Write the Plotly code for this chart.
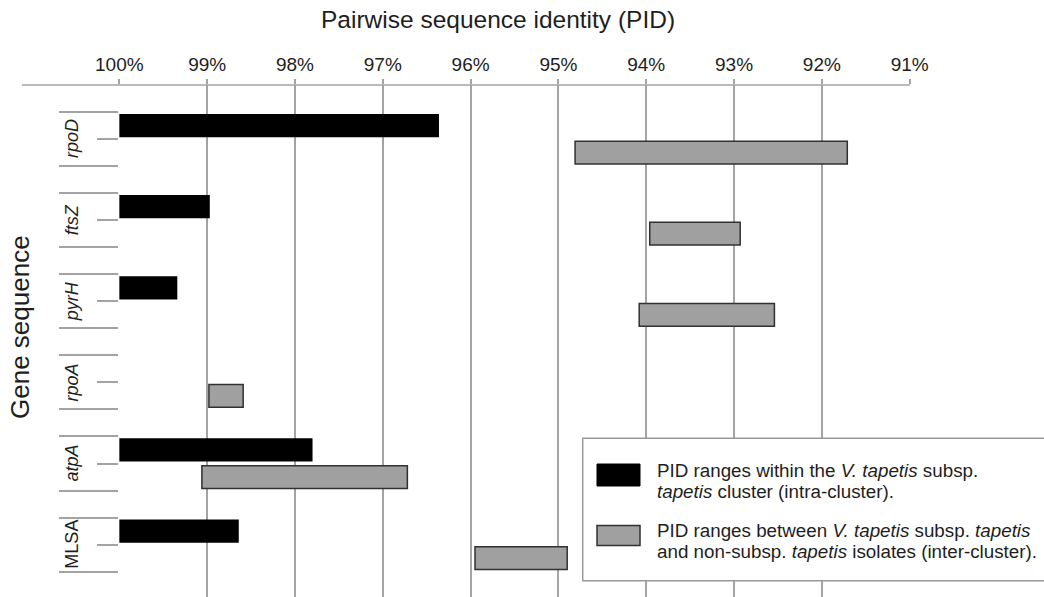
import plotly.graph_objects as go

# ---------------- data ----------------
genes = ["rpoD", "ftsZ", "pyrH", "rpoA", "atpA", "MLSA"]
gene_italic = [True, True, True, True, True, False]
# intra-cluster PID ranges (V. tapetis subsp. tapetis)
intra_high = [100.0, 100.0, 100.0, None, 100.0, 100.0]
intra_low = [96.36, 98.97, 99.34, None, 97.80, 98.64]
# inter-cluster PID ranges
inter_high = [94.81, 93.96, 94.08, 98.98, 99.06, 95.95]
inter_low = [91.71, 92.93, 92.54, 98.59, 96.72, 94.90]
x_ticks = [100, 99, 98, 97, 96, 95, 94, 93, 92, 91]
x_tick_labels = [f"{v}%" for v in x_ticks]

title_text = "Pairwise sequence identity (PID)"
ytitle_text = "Gene sequence"
legend_lines = [
    ["PID ranges within the <i>V. tapetis</i> subsp.",
     "<i>tapetis</i> cluster (intra-cluster)."],
    ["PID ranges between <i>V. tapetis</i> subsp. <i>tapetis</i>",
     "and non-subsp. <i>tapetis</i> isolates (inter-cluster)."],
]

# ---------------- layout helpers ----------------
W, H = 1044, 597
L, T, B = 119, 85, 0
pw = 910 - 119
R = W - L - pw
ph = H - T - B
TEXT = "#1e1e1e"
GRID = "#a3a3a3"
FONT = "Liberation Sans, Arial, Helvetica, sans-serif"


def px_x(px):
    return (px - L) / pw


def px_y(py):
    return (H - py) / ph


slot = 27.0
y_top_slot = 0.0
y_bottom_slot = (597 - 85.7) / slot
n = len(genes)
black_pos = [3 * i + 1.5 for i in range(n)]
gray_pos = [3 * i + 2.5 for i in range(n)]
long_ticks = sorted([3 * i + 1 for i in range(n)] + [3 * i + 3 for i in range(n)])
short_ticks = [3 * i + 2 for i in range(n)]

fig = go.Figure()

ix = [(hi - lo) if hi is not None else None for hi, lo in zip(intra_high, intra_low)]
fig.add_trace(go.Bar(
    orientation="h", y=black_pos, base=intra_low, x=ix, width=0.86,
    marker=dict(color="#000000", line=dict(color="#000000", width=0)),
    name="intra-cluster", showlegend=False, hoverinfo="skip",
))
fig.add_trace(go.Bar(
    orientation="h", y=gray_pos, base=inter_low,
    x=[hi - lo for hi, lo in zip(inter_high, inter_low)], width=0.84,
    marker=dict(color="#a0a0a0", line=dict(color="#303030", width=1.5)),
    name="inter-cluster", showlegend=False, hoverinfo="skip",
))

fig.update_layout(
    width=W, height=H,
    margin=dict(l=L, r=R, t=T, b=B, pad=0),
    paper_bgcolor="white", plot_bgcolor="white",
    barmode="overlay",
    font=dict(family=FONT, color=TEXT, size=18),
    xaxis=dict(
        side="top", range=[100.004, 90.996],
        tickmode="array", tickvals=x_ticks, ticktext=x_tick_labels,
        ticks="outside", ticklen=5, tickwidth=1.5, tickcolor=GRID,
        showgrid=True, gridcolor=GRID, gridwidth=1.5,
        showline=False, zeroline=False,
        tickfont=dict(size=19, color=TEXT),
    ),
    yaxis=dict(
        range=[y_bottom_slot, y_top_slot],
        tickmode="array", tickvals=long_ticks, ticktext=["" for _ in long_ticks],
        ticks="outside", ticklen=59, tickwidth=1.5, tickcolor=GRID,
        showgrid=False, showline=False, zeroline=False,
        minor=dict(tickmode="array", tickvals=short_ticks, ticks="outside",
                   ticklen=21, tickwidth=1.5, tickcolor=GRID, showgrid=False),
    ),
)

shapes = []
# top axis line extending left of the plot
shapes.append(dict(type="line", xref="paper", yref="paper",
                   x0=px_x(22), x1=1.0, y0=1.0, y1=1.0,
                   line=dict(color=GRID, width=1.5)))
# legend box
shapes.append(dict(type="rect", xref="paper", yref="paper",
                   x0=px_x(582.7), x1=px_x(1070), y0=px_y(580.7), y1=px_y(438.3),
                   fillcolor="white", line=dict(color="#9a9a9a", width=1.5),
                   layer="above"))
shapes.append(dict(type="rect", xref="paper", yref="paper",
                   x0=px_x(597), x1=px_x(640), y0=px_y(486), y1=px_y(464),
                   fillcolor="#000000", line=dict(color="#000000", width=1),
                   layer="above"))
shapes.append(dict(type="rect", xref="paper", yref="paper",
                   x0=px_x(597), x1=px_x(640), y0=px_y(545.5), y1=px_y(525.5),
                   fillcolor="#a0a0a0", line=dict(color="#303030", width=1.5),
                   layer="above"))
fig.update_layout(shapes=shapes)

ann = []
ann.append(dict(text=title_text, xref="paper", yref="paper",
                x=px_x(498), y=px_y(19), xanchor="center", yanchor="middle",
                showarrow=False, font=dict(size=24.5, color=TEXT)))
ann.append(dict(text=ytitle_text, xref="paper", yref="paper",
                x=px_x(20), y=px_y(327), xanchor="center", yanchor="middle",
                textangle=-90, showarrow=False, font=dict(size=26, color=TEXT)))
for i, g in enumerate(genes):
    t = f"<i>{g}</i>" if gene_italic[i] else g
    ann.append(dict(text=t, xref="paper", yref="y", x=px_x(72), y=short_ticks[i],
                    xanchor="center", yanchor="middle", textangle=-90,
                    showarrow=False, font=dict(size=18, color=TEXT)))
line_y = [[470, 491.7], [530, 551.7]]
for k in range(2):
    for j in range(2):
        ann.append(dict(text=legend_lines[k][j], xref="paper", yref="paper",
                        x=px_x(655), y=px_y(line_y[k][j]), xanchor="left",
                        yanchor="middle", showarrow=False,
                        font=dict(size=18.8, color=TEXT)))
fig.update_layout(annotations=ann)

# remove the browser's default 8px body margin so the figure fills the window
fig.write_html("out.html",
               config={"displayModeBar": False},
               post_script="document.body.style.margin='0';document.body.style.overflow='hidden';")
